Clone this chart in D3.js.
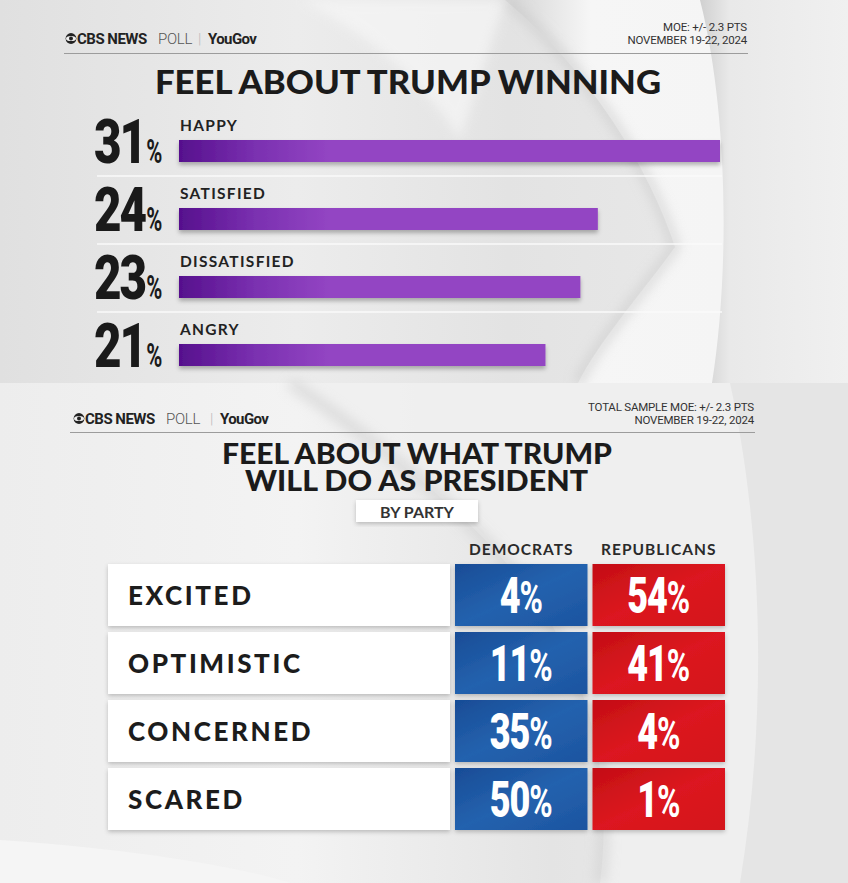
<!DOCTYPE html>
<html><head><meta charset="utf-8">
<script src="https://cdn.jsdelivr.net/npm/d3@7"></script>
<style>
html,body{margin:0;padding:0;background:#ececec;}
svg{display:block;}
</style></head>
<body>
<svg id="chart" width="848" height="883"></svg>
<script>
// ---------- DATA ----------
const barCategories = ["HAPPY", "SATISFIED", "DISSATISFIED", "ANGRY"];
const barValues = [31, 24, 23, 21];
const tableCategories = ["EXCITED", "OPTIMISTIC", "CONCERNED", "SCARED"];
const parties = ["DEMOCRATS", "REPUBLICANS"];
const democratValues = [4, 11, 35, 50];
const republicanValues = [54, 41, 4, 1];
const topTitle = "FEEL ABOUT TRUMP WINNING";
const bottomTitle = ["FEEL ABOUT WHAT TRUMP", "WILL DO AS PRESIDENT"];
const subTitle = "BY PARTY";
const topMoe = ["MOE: +/- 2.3 PTS", "NOVEMBER 19-22, 2024"];
const bottomMoe = ["TOTAL SAMPLE MOE: +/- 2.3 PTS", "NOVEMBER 19-22, 2024"];

// ---------- SETUP ----------
const svg = d3.select("#chart");
const defs = svg.append("defs");
const TITLE_FONT = "Lato, 'Open Sans', sans-serif";
const NUM_FONT = "Roboto, 'Liberation Sans', sans-serif";

function lin(id, x1, y1, x2, y2, stops, units) {
  const g = defs.append("linearGradient").attr("id", id)
    .attr("x1", x1).attr("y1", y1).attr("x2", x2).attr("y2", y2);
  if (units) g.attr("gradientUnits", units);
  stops.forEach(s => g.append("stop").attr("offset", s[0]).attr("stop-color", s[1]).attr("stop-opacity", s[2] == null ? 1 : s[2]));
  return g;
}
lin("bgTop", 0, 0, 1, 0, [[0, "#e0e0e0"], [0.35, "#ececec"], [0.6, "#e3e3e3"], [1, "#ececec"]]);
lin("bgBot", 0, 0, 1, 0, [[0, "#ededed"], [0.35, "#f3f3f3"], [0.65, "#e4e4e4"], [1, "#eeeeee"]]);
lin("sweep", 0, 0, 1, 0, [[0, "#d4d4d4"], [0.25, "#f6f6f6"], [1, "#f4f4f4"]]);
lin("rightEdge", 0, 0, 1, 0, [[0, "#d0d0d0"], [0.2, "#e9e9e9"], [1, "#f0f0f0"]]);
lin("barGrad", 179, 0, 330, 0, [[0, "#56108d"], [0.5, "#7a30b0"], [1, "#9345c3"]], "userSpaceOnUse");
lin("blueGrad", 0, 0, 1, 1, [[0, "#184c96"], [0.5, "#2462ae"], [1, "#1c54a0"]]);
lin("redGrad", 0, 0, 1, 1, [[0, "#c30e14"], [0.5, "#dc1820"], [1, "#d4141b"]]);

const sh = defs.append("filter").attr("id", "shadow").attr("x", "-5%").attr("y", "-30%").attr("width", "110%").attr("height", "170%");
sh.append("feDropShadow").attr("dx", 0).attr("dy", 3).attr("stdDeviation", 2).attr("flood-color", "#000").attr("flood-opacity", 0.28);
const sh2 = defs.append("filter").attr("id", "shadow2").attr("x", "-5%").attr("y", "-10%").attr("width", "110%").attr("height", "130%");
sh2.append("feDropShadow").attr("dx", 0).attr("dy", 2).attr("stdDeviation", 2).attr("flood-color", "#000").attr("flood-opacity", 0.22);
const blur = defs.append("filter").attr("id", "blur").attr("x", "-20%").attr("y", "-20%").attr("width", "140%").attr("height", "140%");
blur.append("feGaussianBlur").attr("stdDeviation", 6);

// ---------- BACKGROUND ----------
const bg = svg.append("g");
bg.append("rect").attr("x", 0).attr("y", 0).attr("width", 848).attr("height", 383).attr("fill", "url(#bgTop)");
bg.append("path").attr("d", "M505 0 C590 70 650 170 675 247 C640 295 600 340 578 383 L848 383 L848 0 Z")
  .attr("fill", "url(#sweep)");
bg.append("path").attr("d", "M505 0 C590 70 650 170 675 247 C640 295 600 340 578 383")
  .attr("fill", "none").attr("stroke", "#c6c6c6").attr("stroke-width", 10).attr("opacity", 0.55).attr("filter", "url(#blur)");
bg.append("path").attr("d", "M700 0 C728 110 730 270 712 383 L848 383 L848 0 Z").attr("fill", "url(#rightEdge)");
bg.append("path").attr("d", "M300 0 C380 40 430 90 460 140 L505 0 Z").attr("fill", "#f7f7f7").attr("opacity", 0.7).attr("filter", "url(#blur)");

bg.append("rect").attr("x", 0).attr("y", 383).attr("width", 848).attr("height", 500).attr("fill", "url(#bgBot)");
bg.append("path").attr("d", "M290 383 C420 470 520 560 560 640 C600 720 610 800 600 883 L848 883 L848 383 Z")
  .attr("fill", "#efefef").attr("opacity", 0.9);
bg.append("path").attr("d", "M290 383 C420 470 520 560 560 640 C600 720 610 800 600 883")
  .attr("fill", "none").attr("stroke", "#cdcdcd").attr("stroke-width", 12).attr("opacity", 0.55).attr("filter", "url(#blur)");
bg.append("path").attr("d", "M730 383 C760 520 770 700 740 883 L848 883 L848 383 Z").attr("fill", "#e5e5e5");
bg.append("path").attr("d", "M0 840 C150 850 250 870 290 883 L0 883 Z").attr("fill", "#f5f5f5");
bg.append("path").attr("d", "M0 383 L848 383").attr("stroke", "#d6d6d6").attr("stroke-width", 3).attr("filter", "url(#blur)");

// ---------- HEADER ----------
function header(x, yLogo, xr, yMoe, lineY, lineX1, lineX2, moeLines, moeSize, ygOff) {
  const g = svg.append("g");
  g.append("circle").attr("cx", x + 5).attr("cy", yLogo - 5.5).attr("r", 5.4).attr("fill", "#222");
  g.append("ellipse").attr("cx", x + 5).attr("cy", yLogo - 5.5).attr("rx", 5).attr("ry", 2.6).attr("fill", "#eee");
  g.append("circle").attr("cx", x + 5).attr("cy", yLogo - 5.5).attr("r", 2).attr("fill", "#222");
  const t = g.append("text").attr("y", yLogo).attr("font-family", NUM_FONT).attr("font-size", 15).attr("fill", "#222");
  t.append("tspan").attr("x", x + 11).attr("font-weight", 700).attr("letter-spacing", -0.5).text("CBS NEWS");
  t.append("tspan").attr("x", x + 92).attr("font-weight", 300).attr("fill", "#555").attr("letter-spacing", -0.3).text("POLL");
  t.append("tspan").attr("x", x + ygOff - 10).attr("font-weight", 300).attr("fill", "#bbb").text("|");
  t.append("tspan").attr("x", x + ygOff).attr("font-weight", 700).attr("letter-spacing", -0.6).text("YouGov");
  const m = g.append("text").attr("text-anchor", "end")
    .attr("font-family", NUM_FONT).attr("font-size", moeSize).attr("fill", "#333").attr("letter-spacing", -0.2);
  moeLines.forEach((s, i) => m.append("tspan").attr("x", xr).attr("y", yMoe + i * 12.5).text(s));
  g.append("line").attr("x1", lineX1).attr("x2", lineX2).attr("y1", lineY).attr("y2", lineY)
    .attr("stroke", "#9c9c9c").attr("stroke-width", 1);
}
header(66, 44, 747, 31, 53.5, 64, 748, topMoe, 11.5, 142);
header(74, 424, 754, 411, 432.5, 70, 755, bottomMoe, 11.5, 146);

// ---------- TOP TITLE ----------
svg.append("text").attr("x", 155).attr("y", 94).attr("textLength", 506).attr("lengthAdjust", "spacingAndGlyphs")
  .attr("font-family", TITLE_FONT).attr("font-weight", 900).attr("font-size", 32).attr("fill", "#1b1b1b").text(topTitle);

// ---------- BAR CHART ----------
const xBar = d3.scaleLinear().domain([0, d3.max(barValues)]).range([179, 720]);
const yBar = d3.scaleBand().domain(barCategories).range([118, 118 + 68 * barCategories.length]);
const barData = barCategories.map((c, i) => ({ c, v: barValues[i] }));
const BAR_OFF = 22, BAR_H = 22;

const rowsG = svg.append("g");
rowsG.selectAll("line.sep").data(barData.slice(0, -1)).join("line")
  .attr("x1", 97).attr("x2", 722)
  .attr("y1", d => yBar(d.c) + 58).attr("y2", d => yBar(d.c) + 58)
  .attr("stroke", "#fafafa").attr("stroke-width", 1.5);

rowsG.selectAll("rect.bar").data(barData).join("rect")
  .attr("x", xBar(0)).attr("y", d => yBar(d.c) + BAR_OFF)
  .attr("width", d => xBar(d.v) - xBar(0)).attr("height", BAR_H)
  .attr("fill", "url(#barGrad)").attr("filter", "url(#shadow)");

rowsG.selectAll("text.cat").data(barData).join("text")
  .attr("x", 180).attr("y", d => yBar(d.c) + 13)
  .attr("font-family", TITLE_FONT).attr("font-weight", 700).attr("font-size", 15.5).attr("letter-spacing", 1.3)
  .attr("fill", "#222").text(d => d.c);

const SX = 0.78;
barData.forEach(d => {
  const base = yBar(d.c) + BAR_OFF + BAR_H + 1;
  const num = rowsG.append("text").attr("transform", `translate(94,${base}) scale(${SX},1)`)
    .attr("font-family", NUM_FONT).attr("font-weight", 900).attr("font-size", 61).attr("letter-spacing", -2.5)
    .attr("fill", "#1a1a1a").text(String(d.v));
  const w = num.node().getComputedTextLength() * SX;
  rowsG.append("text").attr("transform", `translate(${94 + w + 1},${base}) scale(0.66,1)`)
    .attr("font-family", NUM_FONT).attr("font-weight", 700).attr("font-size", 33)
    .attr("fill", "#1a1a1a").text("%");
});

// ---------- BOTTOM TITLE ----------
const bt = svg.append("text").attr("font-family", TITLE_FONT).attr("font-weight", 900).attr("font-size", 29).attr("fill", "#1b1b1b");
bt.append("tspan").attr("x", 222).attr("y", 464).attr("textLength", 390).attr("lengthAdjust", "spacingAndGlyphs").text(bottomTitle[0]);
bt.append("tspan").attr("x", 245).attr("y", 491).attr("textLength", 343).attr("lengthAdjust", "spacingAndGlyphs").text(bottomTitle[1]);
svg.append("rect").attr("x", 356).attr("y", 500).attr("width", 122).attr("height", 22).attr("fill", "#fff").attr("filter", "url(#shadow2)");
svg.append("text").attr("x", 417).attr("y", 517.5).attr("text-anchor", "middle")
  .attr("font-family", TITLE_FONT).attr("font-weight", 700).attr("font-size", 16).attr("fill", "#333").text(subTitle);

// ---------- TABLE ----------
const yRow = d3.scaleBand().domain(tableCategories).range([564, 830]).paddingInner(6 / 68);
const xCol = d3.scaleBand().domain(parties).range([455, 725]).paddingInner(5 / 137.5);
const partyValues = { DEMOCRATS: democratValues, REPUBLICANS: republicanValues };
const partyFill = { DEMOCRATS: "url(#blueGrad)", REPUBLICANS: "url(#redGrad)" };

const tg = svg.append("g");
tg.selectAll("text.head").data(parties).join("text")
  .attr("x", p => xCol(p) + xCol.bandwidth() / 2).attr("y", 555).attr("text-anchor", "middle")
  .attr("font-family", TITLE_FONT).attr("font-weight", 700).attr("font-size", 15.5).attr("letter-spacing", 1)
  .attr("fill", "#2a2a2a").text(p => p);

tg.selectAll("rect.lab").data(tableCategories).join("rect")
  .attr("x", 108).attr("y", c => yRow(c)).attr("width", 342).attr("height", yRow.bandwidth())
  .attr("fill", "#fff").attr("filter", "url(#shadow2)");
tg.selectAll("text.lab").data(tableCategories).join("text")
  .attr("x", 128).attr("y", c => yRow(c) + yRow.bandwidth() / 2 + 9.5)
  .attr("font-family", TITLE_FONT).attr("font-weight", 900).attr("font-size", 26).attr("letter-spacing", 2.6)
  .attr("fill", "#1c1c1c").text(c => c);

const cells = [];
tableCategories.forEach((c, i) => parties.forEach(p => cells.push({ c, p, v: partyValues[p][i] })));
tg.selectAll("rect.cell").data(cells).join("rect")
  .attr("x", d => xCol(d.p)).attr("y", d => yRow(d.c))
  .attr("width", xCol.bandwidth()).attr("height", yRow.bandwidth())
  .attr("fill", d => partyFill[d.p]).attr("filter", "url(#shadow2)");
const SX2 = 0.72;
cells.forEach(d => {
  const cx = xCol(d.p) + xCol.bandwidth() / 2;
  const base = yRow(d.c) + yRow.bandwidth() / 2 + 18;
  const t = tg.append("text").attr("transform", `translate(${cx},${base}) scale(${SX2},1)`)
    .attr("text-anchor", "middle").attr("font-family", NUM_FONT).attr("font-weight", 900)
    .attr("font-size", 50).attr("fill", "#fff");
  t.append("tspan").attr("letter-spacing", -1.5).text(String(d.v));
  t.append("tspan").attr("font-size", 44).attr("font-weight", 700).text("%");
});
</script>
</body></html>
